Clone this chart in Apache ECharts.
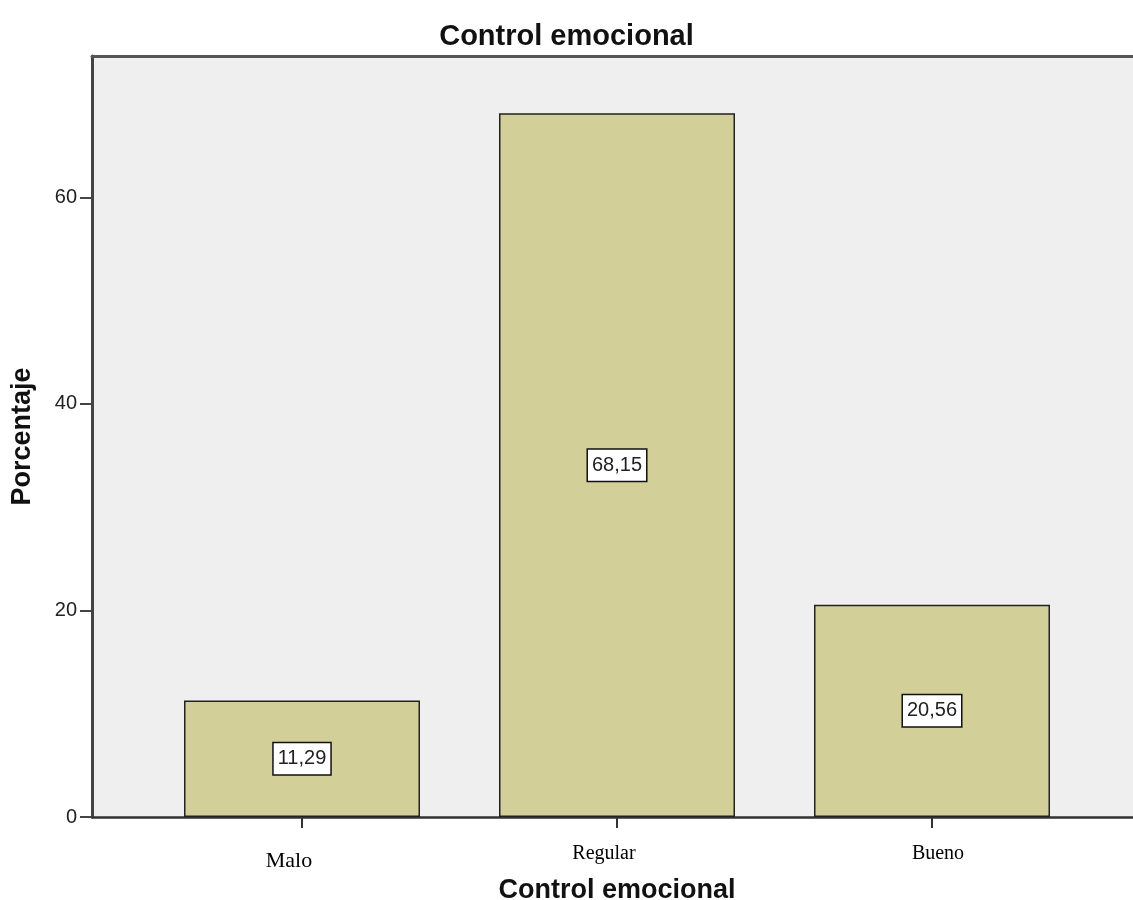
<!DOCTYPE html>
<html>
<head>
<meta charset="utf-8">
<script src="https://cdn.jsdelivr.net/npm/echarts@6/dist/echarts.min.js"></script>
<style>html,body{margin:0;padding:0;background:#fff;overflow:hidden}#c{width:1133px;height:900px}</style>
</head>
<body>
<div id="c"></div>
<script>
const categories = ['Malo', 'Regular', 'Bueno'];
const values = [11.29, 68.15, 20.56];
const yTicks = [0, 20, 40, 60];
const catPositions = [1, 2, 3];

const chart = echarts.init(document.getElementById('c'), null, {renderer: 'canvas', width: 1133, height: 900});
const labelRich = {
  m: {fontFamily: 'Liberation Serif, Times New Roman, serif', fontSize: 22, color: '#000', padding: [6, 26, 0, 0]},
  r: {fontFamily: 'Liberation Serif, Times New Roman, serif', fontSize: 20, color: '#000', padding: [0, 26, 0, 0]},
  b: {fontFamily: 'Liberation Serif, Times New Roman, serif', fontSize: 20, color: '#000', padding: [0, 0, 0, 12]}
};
const keys = ['m', 'r', 'b'];
chart.setOption({
  animation: false,
  title: {
    text: 'Control emocional', left: 'center', top: 17,
    textStyle: {fontFamily: 'Liberation Sans, Arial, sans-serif', fontWeight: 'bold', fontSize: 29, color: '#111'}
  },
  grid: {left: 92, width: 1050, top: 56, height: 761, outerBoundsMode: 'none', containLabel: false,
         show: true, backgroundColor: '#efefef', borderWidth: 0},
  xAxis: [{
    type: 'value', min: 1 / 3, max: 11 / 3,
    splitLine: {show: false},
    axisLine: {lineStyle: {color: '#333', width: 2.5}},
    axisTick: {show: true, customValues: catPositions, length: 11, lineStyle: {color: '#333', width: 2}},
    axisLabel: {
      customValues: catPositions, margin: 27,
      formatter: v => { const i = Math.round(v) - 1; return '{' + keys[i] + '|' + categories[i] + '}'; },
      rich: labelRich
    },
    name: 'Control emocional', nameLocation: 'middle', nameGap: 54,
    nameTextStyle: {fontFamily: 'Liberation Sans, Arial, sans-serif', fontWeight: 'bold', fontSize: 27, color: '#111'}
  }, {
    type: 'value', position: 'top', min: 1 / 3, max: 11 / 3,
    splitLine: {show: false}, axisTick: {show: false}, axisLabel: {show: false},
    axisLine: {show: true, lineStyle: {color: '#555', width: 3}}
  }],
  yAxis: {
    type: 'value', min: 0, max: 73.7, interval: 20,
    splitLine: {show: false},
    axisLine: {show: true, lineStyle: {color: '#444', width: 3}},
    axisTick: {show: true, customValues: yTicks, length: 12, lineStyle: {color: '#444', width: 2}},
    axisLabel: {customValues: yTicks, margin: 15, fontFamily: 'Liberation Sans, Arial, sans-serif', fontSize: 20, color: '#222'},
    name: 'Porcentaje', nameLocation: 'middle', nameGap: 56, nameRotate: 90,
    nameTextStyle: {fontFamily: 'Liberation Sans, Arial, sans-serif', fontWeight: 'bold', fontSize: 27, color: '#111'}
  },
  series: [{
    type: 'bar', xAxisIndex: 0,
    data: values.map((v, i) => [catPositions[i], v]),
    barWidth: 236,
    itemStyle: {color: '#d3cf98', borderColor: '#222', borderWidth: 1.5},
    label: {
      show: true, position: 'inside',
      formatter: p => p.value[1].toFixed(2).replace('.', ','),
      fontFamily: 'Liberation Sans, Arial, sans-serif', fontSize: 20, color: '#222',
      backgroundColor: '#fff', borderColor: '#111', borderWidth: 1.5, padding: [6, 4, 5, 4]
    }
  }]
});
</script>
</body>
</html>
